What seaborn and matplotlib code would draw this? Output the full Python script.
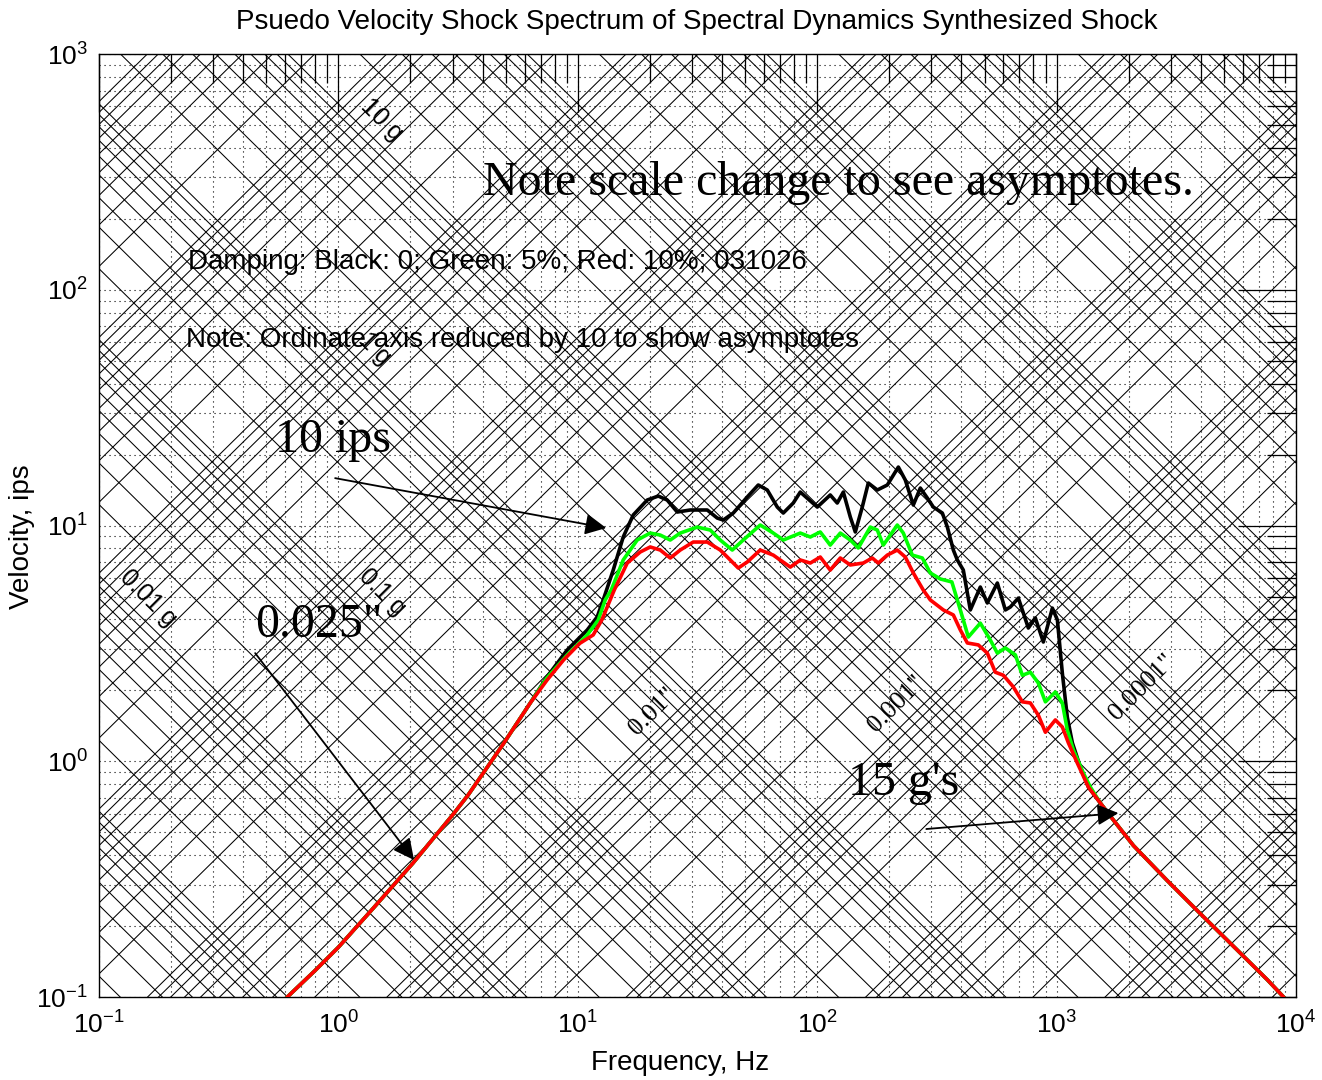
import numpy as np
import pandas as pd
import matplotlib
matplotlib.use("Agg")
import matplotlib.pyplot as plt
import seaborn as sns
from matplotlib.ticker import FixedLocator, FixedFormatter, LogLocator, NullFormatter

G_IPS = 386.1  # 1 g in in/s^2

# ---------------- spectrum data (Hz, ips) ----------------
# shared low-frequency (displacement) asymptote
low_freq = [0.610, 0.80, 1.00, 1.40, 2.05, 3.02, 3.48, 4.88, 6.33]
low_vel = [0.100, 0.130, 0.163, 0.239, 0.371, 0.598, 0.720, 1.185, 1.77]

# shared high-frequency (acceleration) asymptote
tail_freq = [1524, 1728, 2094, 2904, 3990, 5481, 7602, 8900]
tail_vel = [0.666, 0.564, 0.440, 0.312, 0.226, 0.1645, 0.1185, 0.100]

black_freq = [7.43, 9.03, 10.95, 12.05, 12.77, 14.06, 15.48, 17.04, 19.50, 21.68,
              23.63, 26.03, 29.49, 34.74, 38.23, 40.52, 44.61, 51.04, 56.74, 61.87,
              68.13, 72.17, 79.45, 85.0, 100.1, 113.4, 121.3, 128.6, 137.5, 144.3,
              154.3, 163.5, 178.3, 196.3, 218.3, 233.4, 252.1, 269.7, 288.5, 305.6,
              333.3, 349.8, 370.5, 385.0, 407.8, 436.3, 480.3, 513.7, 565.7, 611.0,
              641.2, 692.3, 762.3, 815.3, 880.6, 960.3, 1008, 1057, 1109, 1164,
              1257, 1358]
black_vel = [2.28, 2.97, 3.61, 4.10, 4.84, 6.48, 8.95, 11.09, 12.84, 13.35,
             12.84, 11.42, 11.65, 11.65, 10.77, 10.56, 11.31, 13.23, 14.87, 14.16,
             11.99, 11.31, 12.47, 13.88, 11.99, 13.49, 12.47, 13.88, 10.88, 9.40,
             11.99, 15.16, 14.16, 14.87, 17.72, 15.61, 12.23, 14.44, 13.09, 11.99,
             11.31, 9.86, 7.88, 7.15, 6.48, 4.39, 5.49, 4.70, 5.71, 4.39,
             4.52, 4.93, 3.68, 4.06, 3.21, 4.47, 3.98, 2.37, 1.54, 1.20,
             0.947, 0.779]

green_freq = [7.43, 9.03, 10.95, 12.17, 13.02, 13.79, 15.48, 17.71, 20.07, 22.10,
              24.33, 26.79, 31.55, 35.75, 39.37, 44.19, 49.11, 57.83, 65.55, 72.17,
              85.0, 93.6, 103.0, 113.4, 124.9, 137.5, 148.5, 166.7, 178.3, 188.9,
              216.1, 229.0, 249.7, 274.9, 296.9, 326.9, 365.2, 385.0, 407.8, 427.9,
              480.3, 529.0, 565.7, 611.0, 672.9, 719.5, 777.2, 839.3, 898.0, 988.5,
              1057, 1109, 1175, 1294, 1384]
green_vel = [2.26, 2.83, 3.44, 3.98, 4.84, 5.33, 7.15, 8.69, 9.30, 9.12,
             8.69, 9.30, 9.86, 9.58, 8.69, 7.88, 8.69, 10.06, 9.30, 8.69,
             9.30, 8.95, 9.40, 8.27, 9.30, 8.69, 8.04, 9.86, 9.58, 8.27,
             10.06, 9.30, 7.50, 7.29, 6.30, 5.94, 5.77, 4.84, 3.98, 3.37,
             3.86, 3.27, 2.88, 3.03, 2.83, 2.32, 2.39, 2.15, 1.79, 1.97,
             1.77, 1.36, 1.12, 0.893, 0.779]

red_freq = [7.43, 8.71, 10.2, 11.6, 12.6, 14.20, 16.09, 18.23, 20.07, 22.10,
            24.33, 26.79, 30.35, 34.74, 39.37, 43.35, 46.81, 51.04, 57.83, 65.55,
            77.20, 85.0, 93.6, 103.0, 113.4, 124.9, 137.5, 155.8, 169.9, 180.0,
            196.3, 216.1, 233.4, 252.1, 277.5, 296.9, 336.5, 370.5, 396.3, 423.9,
            471.2, 513.7, 554.9, 599.4, 659.9, 719.5, 777.2, 839.3, 898.0, 988.5,
            1057, 1120, 1221, 1358]
red_vel = [2.21, 2.69, 3.17, 3.44, 3.98, 5.33, 6.94, 7.73, 8.12, 7.88,
           7.29, 7.88, 8.52, 8.52, 7.88, 7.15, 6.61, 7.01, 7.88, 7.50,
           6.67, 7.15, 6.94, 7.36, 6.48, 7.29, 6.81, 6.94, 7.29, 6.94,
           7.50, 7.88, 7.36, 6.30, 5.33, 4.84, 4.39, 4.18, 3.61, 3.18,
           3.12, 2.88, 2.39, 2.32, 2.07, 1.79, 1.77, 1.57, 1.33, 1.50,
           1.40, 1.20, 0.984, 0.779]

damping_names = ["0", "5%", "10%"]
damping_colors = {"0": "#000000", "5%": "#00ff00", "10%": "#ff0000"}

# tripartite grid: constant displacement (in) and constant acceleration (g)
grid_multipliers = [1, 2, 3, 4, 5, 6, 7, 8, 9]
disp_decades = list(range(-6, 4))
accel_decades = list(range(-4, 6))

x_tick_values = [0.1, 1, 10, 100, 1000, 10000]
x_tick_labels = ["$10^{-1}$", "$10^{0}$", "$10^{1}$", "$10^{2}$", "$10^{3}$", "$10^{4}$"]
y_tick_values = [0.1, 1, 10, 100, 1000]
y_tick_labels = ["$10^{-1}$", "$10^{0}$", "$10^{1}$", "$10^{2}$", "$10^{3}$"]

# ---------------- assemble ----------------
curves = {
    "0": (low_freq + black_freq + tail_freq, low_vel + black_vel + tail_vel),
    "5%": (low_freq + green_freq + tail_freq, low_vel + green_vel + tail_vel),
    "10%": (low_freq + red_freq + tail_freq, low_vel + red_vel + tail_vel),
}
frames = []
for name in damping_names:
    f, v = curves[name]
    frames.append(pd.DataFrame({"freq": f, "vel": v, "damping": name}))
df = pd.concat(frames, ignore_index=True)

# ---------------- style ----------------
sns.set_theme(style="white")
plt.rcParams["font.family"] = ["Liberation Sans", "DejaVu Sans"]
plt.rcParams["mathtext.fontset"] = "custom"
plt.rcParams["mathtext.rm"] = "Liberation Sans"
plt.rcParams["mathtext.it"] = "Liberation Sans:italic"
plt.rcParams["axes.edgecolor"] = "black"
plt.rcParams["text.color"] = "black"

fig = plt.figure(figsize=(13.22, 10.80), dpi=100)
fig.patch.set_facecolor("white")
ax = fig.add_axes([0.0749, 0.0766, 0.9054, 0.8734])

xmin, xmax = 0.1, 1e4
ymin, ymax = 0.1, 1e3
ax.set_xscale("log")
ax.set_yscale("log")
ax.set_xlim(xmin, xmax)
ax.set_ylim(ymin, ymax)

fline = np.array([xmin, xmax])
for k in disp_decades:
    for m in grid_multipliers:
        d = m * 10.0 ** k
        ax.plot(fline, 2 * np.pi * fline * d, color="black", lw=0.75, zorder=1)
for k in accel_decades:
    for m in grid_multipliers:
        a = m * 10.0 ** k
        ax.plot(fline, a * G_IPS / (2 * np.pi * fline), color="black", lw=0.75, zorder=1)

sns.lineplot(data=df, x="freq", y="vel", hue="damping", hue_order=damping_names,
             palette=damping_colors, estimator=None, sort=False, lw=2.6,
             legend=False, ax=ax, zorder=3)

# axes, ticks, dotted grid
ax.xaxis.set_major_locator(FixedLocator(x_tick_values))
ax.xaxis.set_major_formatter(FixedFormatter(x_tick_labels))
ax.yaxis.set_major_locator(FixedLocator(y_tick_values))
ax.yaxis.set_major_formatter(FixedFormatter(y_tick_labels))
ax.xaxis.set_minor_locator(LogLocator(base=10, subs=np.arange(2, 10), numticks=20))
ax.yaxis.set_minor_locator(LogLocator(base=10, subs=np.arange(2, 10), numticks=20))
ax.xaxis.set_minor_formatter(NullFormatter())
ax.yaxis.set_minor_formatter(NullFormatter())
ax.tick_params(which="both", direction="in", top=True, right=True, colors="black",
               width=0.9)
ax.tick_params(which="major", length=42, labelsize=19)
ax.tick_params(which="minor", length=21)
ax.tick_params(axis="x", which="major", pad=10)
ax.tick_params(axis="y", which="major", pad=8)
ax.grid(which="both", color="black", linestyle=(0, (1, 3.5)), lw=0.8)
for s in ax.spines.values():
    s.set_color("black")
    s.set_linewidth(1.0)
ax.set_xlabel("")
ax.set_ylabel("")

fig.text(0.5272, 1 - 22 / 1080, "Psuedo Velocity Shock Spectrum of Spectral Dynamics Synthesized Shock",
         ha="center", va="center", fontsize=20)
fig.text(0.5144, 1 - 1063 / 1080, "Frequency, Hz", ha="center", va="center", fontsize=20)
fig.text(0.0166, 0.5028, "Velocity, ips", ha="center", va="center", rotation=90, fontsize=20)

serif = ["Liberation Serif", "DejaVu Serif"]
ax.text(0.3208, 0.8632, "Note scale change to see asymptotes.", transform=ax.transAxes,
        ha="left", va="center", fontsize=34.5, family=serif, zorder=5)
ax.text(0.0744, 0.7795, "Damping: Black: 0; Green: 5%; Red: 10%; 031026", transform=ax.transAxes,
        ha="left", va="center", fontsize=20, zorder=5)
ax.text(0.0727, 0.6968, "Note: Ordinate axis reduced by 10 to show asymptotes", transform=ax.transAxes,
        ha="left", va="center", fontsize=20, zorder=5)
ax.text(0.147, 0.5908, "10 ips", transform=ax.transAxes, ha="left", va="center",
        fontsize=34.5, family=serif, zorder=5)
ax.text(0.1303, 0.3947, "0.025\"", transform=ax.transAxes, ha="left", va="center",
        fontsize=34.5, family=serif, zorder=5)
ax.text(0.6257, 0.2270, "15 g's", transform=ax.transAxes, ha="left", va="center",
        fontsize=34.5, family=serif, zorder=5)

# line labels along the tripartite grid
for txt, f, v in [("10 g", 1.52, 525), ("1 g", 1.42, 56), ("0.1 g", 1.52, 5.23), ("0.01 g", 0.160, 4.93)]:
    ax.text(f, v, txt, rotation=-45, ha="center", va="center", fontsize=18, zorder=5,
            rotation_mode="anchor")
for txt, f, v in [("0.01\"", 20.5, 1.62), ("0.001\"", 214, 1.75), ("0.0001\"", 2284, 2.07)]:
    ax.text(f, v, txt, rotation=45, ha="center", va="center", fontsize=19, family=serif,
            zorder=5, rotation_mode="anchor")

arrow = dict(arrowstyle="-|>", color="black", lw=1.3, mutation_scale=32, shrinkA=0, shrinkB=0)
ax.annotate("", xy=(13.15, 9.77), xytext=(0.969, 15.9), arrowprops=arrow, zorder=6)
ax.annotate("", xy=(2.07, 0.382), xytext=(0.449, 2.88), arrowprops=arrow, zorder=6)
ax.annotate("", xy=(1813, 0.604), xytext=(285.7, 0.517), arrowprops=arrow, zorder=6)

fig.savefig("out.png", dpi=100)
